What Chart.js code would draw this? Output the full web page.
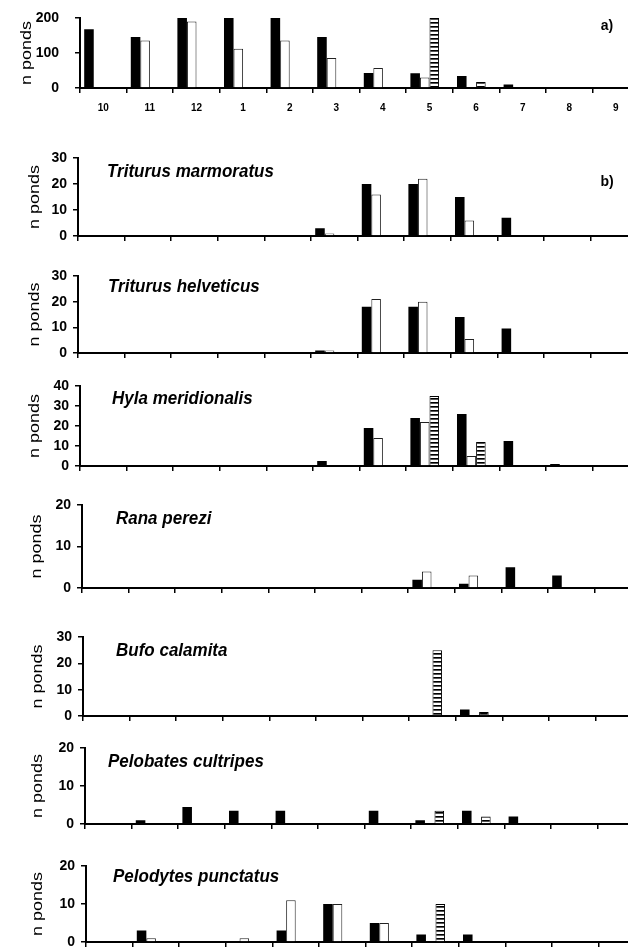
<!DOCTYPE html>
<html>
<head>
<meta charset="utf-8">
<script src="https://cdn.jsdelivr.net/npm/chart.js@4.4.1/dist/chart.umd.min.js"></script>
<style>
  html, body { margin: 0; padding: 0; background: #fff; }
  body { width: 628px; height: 947px; overflow: hidden; position: relative; }
  canvas { position: absolute; left: 0; }
</style>
</head>
<body>
<script>
// months, October to September
const months = ['10', '11', '12', '1', '2', '3', '4', '5', '6', '7', '8', '9'];

// a) all ponds
const pondsBlack   = [168, 146, 200, 200, 200, 146, 43, 42, 34, 10, 3, 0];
const pondsWhite   = [0, 136, 190, 112, 136, 86, 57, 30, 2, 0, 0, 0];
const pondsStriped = [0, 0, 0, 0, 0, 0, 0, 200, 17, 0, 0, 0];

// b) species
const marmBlack = [0, 0, 0, 0, 0, 3, 20, 20, 15, 7, 0, 0];
const marmWhite = [0, 0, 0, 0, 0, 1, 16, 22, 6, 0, 0, 0];

const helvBlack = [0, 0, 0, 0, 0, 1, 18, 18, 14, 9.5, 0, 0];
const helvWhite = [0, 0, 0, 0, 0, 1, 21, 20, 5.5, 0, 0, 0];

const hylaBlack   = [0, 0, 0, 0, 0, 2.5, 19, 24, 26, 12.5, 1, 0];
const hylaWhite   = [0, 0, 0, 0, 0.5, 0, 14, 22, 5, 0, 0, 0];
const hylaStriped = [0, 0, 0, 0, 0, 0, 0, 35, 12, 0, 0, 0];

const ranaBlack = [0, 0, 0, 0, 0, 0, 0, 2, 1, 5, 3, 0];
const ranaWhite = [0, 0, 0, 0, 0, 0, 0, 4, 3, 0, 0, 0];

const bufoBlack   = [0, 0, 0, 0, 0, 0, 0, 0, 2.5, 0, 0, 0];
const bufoStriped = [0, 0, 0, 0, 0, 0, 0, 25, 1.5, 0, 0, 0];

const pelobBlack   = [0, 1, 4.5, 3.5, 3.5, 0, 3.5, 1, 3.5, 2, 0, 0];
const pelobStriped = [0, 0, 0, 0, 0, 0, 0, 3.5, 2, 0, 0, 0];

const pelodBlack   = [0, 3, 0, 0, 3, 10, 5, 2, 2, 0, 0, 0];
const pelodWhite   = [0, 1, 0, 1, 11, 10, 5, 0, 0, 0, 0, 0];
const pelodStriped = [0, 0, 0, 0, 0, 0, 0, 10, 0, 0, 0, 0];

const FONT = '"Liberation Sans", Arial, sans-serif';

// horizontal stripes fill
function stripes() {
    const c = document.createElement('canvas');
    c.width = 8; c.height = 4;
    const g = c.getContext('2d');
    g.fillStyle = '#fff'; g.fillRect(0, 0, 8, 4);
    g.fillStyle = '#000'; g.fillRect(0, 0, 8, 1);
    g.fillStyle = '#555'; g.fillRect(0, 1, 8, 1);
    return g.createPattern(c, 'repeat');
}
const stripeFill = stripes();

// labels drawn on top of each panel
const panelText = {
    id: 'panelText',
    afterDraw(chart, args, o) {
        const ctx = chart.ctx;
        ctx.save();
        ctx.fillStyle = '#000';
        ctx.textBaseline = 'middle';
        if (o.name) {
            ctx.font = 'italic bold 17px ' + FONT;
            ctx.textAlign = 'left';
            ctx.save();
            ctx.translate(o.nameX, o.nameY);
            ctx.scale(1, 1.1);
            ctx.fillText(o.name, 0, 0);
            ctx.restore();
        }
        if (o.letter) {
            ctx.font = 'bold 14px ' + FONT;
            ctx.textAlign = 'center';
            ctx.fillText(o.letter, 607, o.letterY);
        }
        // y title
        ctx.font = '15px ' + FONT;
        ctx.textAlign = 'center';
        ctx.save();
        ctx.translate(o.titleX, (chart.chartArea.top + chart.chartArea.bottom) / 2);
        ctx.rotate(-Math.PI / 2);
        ctx.scale(1.2, 1);
        ctx.fillText('n ponds', 0, 0);
        ctx.restore();
        ctx.restore();
    }
};

const CAT = 46.6;     // width of one month
const CANVAS_W = 700;

function makeChart(cfg) {
    const padTop = 12;
    const B = cfg.months ? 28 : 9;
    const h = cfg.bottom - cfg.top + padTop + B;
    const canvasTop = cfg.top - padTop;
    const cv = document.createElement('canvas');
    cv.width = CANVAS_W; cv.height = h;
    cv.style.top = canvasTop + 'px';
    cv.style.width = CANVAS_W + 'px'; cv.style.height = h + 'px';
    document.body.appendChild(cv);

    const zeros = months.map(() => 0);
    new Chart(cv, {
        type: 'bar',
        data: {
            labels: months,
            datasets: [
                { label: 'black', data: cfg.black || zeros, backgroundColor: '#000', borderWidth: 0 },
                { label: 'white', data: cfg.white || zeros, backgroundColor: '#fff', borderColor: '#222', borderWidth: 1 },
                { label: 'striped', data: cfg.striped || zeros, backgroundColor: stripeFill, borderColor: '#000', borderWidth: 1 },
                { label: 'spacer', data: [], backgroundColor: 'rgba(0,0,0,0)' }
            ]
        },
        options: {
            responsive: false,
            animation: false,
            devicePixelRatio: 1,
            layout: { padding: { top: padTop, left: 0, bottom: 0, right: CANVAS_W - (cfg.axisX + CAT * 12) } },
            datasets: { bar: { categoryPercentage: 0.82, barPercentage: 1.0 } },
            plugins: {
                legend: { display: false },
                tooltip: { enabled: false },
                panelText: {
                    name: cfg.name, nameX: cfg.nameX, nameY: cfg.nameY - canvasTop,
                    letter: cfg.letter, letterY: (cfg.letterY || 0) - canvasTop,
                    titleX: cfg.titleX
                }
            },
            scales: {
                x: {
                    offset: true,
                    grid: { offset: true, drawOnChartArea: false, drawTicks: true, tickLength: 5, color: '#000', lineWidth: 1.5 },
                    border: { display: true, color: '#000', width: 2 },
                    ticks: { display: !!cfg.months, color: '#000', padding: 9, maxRotation: 0, autoSkip: false,
                             font: { family: FONT, weight: 'bold', size: 10 } },
                    afterFit(s) { s.height = B; }
                },
                y: {
                    min: 0, max: cfg.max,
                    ticks: { stepSize: cfg.step, color: '#000', padding: cfg.tickPad,
                             font: { family: FONT, weight: 'bold', size: 14 } },
                    grid: { drawOnChartArea: false, drawTicks: true, tickLength: 5, color: '#000', lineWidth: 1.5 },
                    border: { display: true, color: '#000', width: 2 },
                    // fixed axis position; keep label overhang from pushing the plot down
                    afterFit(s) { s.width = cfg.axisX; s.paddingTop = 0; s.paddingBottom = 0; }
                }
            }
        },
        plugins: [panelText]
    });
}

makeChart({ axisX: 80, top: 18, bottom: 88, max: 200, step: 100, months: true, tickPad: 16, titleX: 27,
            black: pondsBlack, white: pondsWhite, striped: pondsStriped, letter: 'a)', letterY: 26 });
makeChart({ axisX: 78, top: 158, bottom: 236, max: 30, step: 10, tickPad: 6, titleX: 35,
            black: marmBlack, white: marmWhite, name: 'Triturus marmoratus', nameX: 107, nameY: 172,
            letter: 'b)', letterY: 182 });
makeChart({ axisX: 78, top: 276, bottom: 353, max: 30, step: 10, tickPad: 6, titleX: 35,
            black: helvBlack, white: helvWhite, name: 'Triturus helveticus', nameX: 108, nameY: 287 });
makeChart({ axisX: 80, top: 386, bottom: 466, max: 40, step: 10, tickPad: 6, titleX: 35,
            black: hylaBlack, white: hylaWhite, striped: hylaStriped, name: 'Hyla meridionalis', nameX: 112, nameY: 399 });
makeChart({ axisX: 82, top: 505, bottom: 588, max: 20, step: 10, tickPad: 6, titleX: 37,
            black: ranaBlack, white: ranaWhite, name: 'Rana perezi', nameX: 116, nameY: 519 });
makeChart({ axisX: 83, top: 637, bottom: 716, max: 30, step: 10, tickPad: 6, titleX: 38,
            black: bufoBlack, striped: bufoStriped, name: 'Bufo calamita', nameX: 116, nameY: 651 });
makeChart({ axisX: 85, top: 748, bottom: 824, max: 20, step: 10, tickPad: 6, titleX: 38,
            black: pelobBlack, striped: pelobStriped, name: 'Pelobates cultripes', nameX: 108, nameY: 762 });
makeChart({ axisX: 86, top: 866, bottom: 942, max: 20, step: 10, tickPad: 6, titleX: 38,
            black: pelodBlack, white: pelodWhite, striped: pelodStriped, name: 'Pelodytes punctatus', nameX: 113, nameY: 877 });
</script>
</body>
</html>
